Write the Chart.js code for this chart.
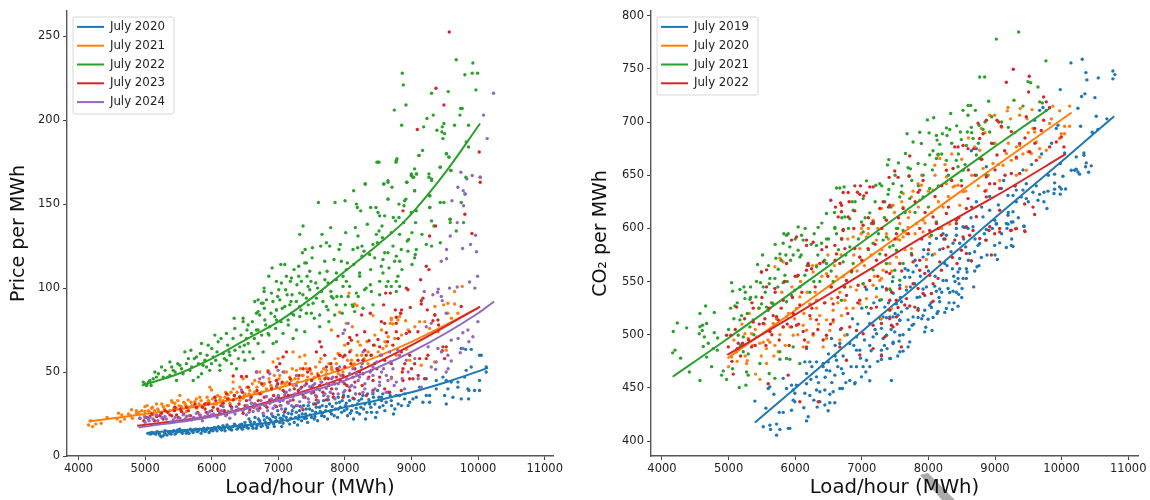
<!DOCTYPE html>
<html>
<head>
<meta charset="utf-8">
<style>
  html, body { margin: 0; padding: 0; background: #fff; }
  #page { position: relative; width: 1150px; height: 500px; overflow: hidden; }
  canvas { position: absolute; top: 0; filter: blur(0.35px); }
  #priceChart { left: 0; }
  #co2Chart { left: 575px; }
  #stray { position: absolute; left: 915px; top: 470px; width: 45px; height: 30px; background: #aaa;
    clip-path: polygon(5px 5px, 13px 3px, 40px 30px, 27px 30px); }
</style>
<script src="https://cdn.jsdelivr.net/npm/chart.js@4"></script>
</head>
<body>
<div id="page">
  <div id="stray"></div>
  <canvas id="priceChart" width="575" height="500"></canvas>
  <canvas id="co2Chart" width="575" height="500"></canvas>
</div>
<script>
const loadTicks = [4000, 5000, 6000, 7000, 8000, 9000, 10000, 11000];
const priceTicks = [0, 50, 100, 150, 200, 250];
const co2Ticks = [400, 450, 500, 550, 600, 650, 700, 750, 800];
const priceLabels = ['July 2020', 'July 2021', 'July 2022', 'July 2023', 'July 2024'];
const co2Labels = ['July 2019', 'July 2020', 'July 2021', 'July 2022'];

// fitted curves
const priceFit2020 = [[5040,13.8],[6100,17],[7000,20.5],[8000,29],[9000,38],[9600,45],[10150,52.5]];
const priceFit2021 = [[4150,20.5],[5000,25],[6000,31],[7000,40.5],[8000,52],[9000,68],[10000,88]];
const priceFit2022 = [[4950,42],[5500,49],[6000,58],[6500,69],[7000,80],[7500,94],[8000,110],[8500,126],[8900,140],[9530,170],[10030,198]];
const priceFit2023 = [[4880,18],[6000,24],[7000,34],[8000,47],[9000,66],[10030,89]];
const priceFit2024 = [[4900,17],[6000,23.4],[7000,33],[8000,45],[9000,62],[10000,85],[10240,92]];

const co2Fit2019 = [[5395,417.5],[7000,503],[8000,556],[9000,610],[10000,663],[10790,705.5]];
const co2Fit2020 = [[4985,478],[6000,523],[7000,568],[8000,613],[9000,658],[10150,709]];
const co2Fit2021 = [[4160,460.5],[5000,497],[6000,542],[7000,587],[8000,632],[9000,677],[9825,713]];
const co2Fit2022 = [[4980,481],[6000,519],[7000,557],[8000,595],[9000,630],[10066,670]];

const price2020 = [[5040,13.5],[5100,14],[5160,13],[5210,13.5],[5240,11.5],[5270,12],[5300,13],[5300,15],[5350,14.5],[5390,13],[5430,15],[5470,14],[5520,16],[5560,13.5],[5600,15],[5640,14.5],[5680,16],[5720,14],[5760,16],[5800,15],[5840,13.5],[5880,16.5],[5920,15.5],[5960,14],[6000,16],[6040,17],[6080,15],[6120,16.5],[6170,18],[6200,15],[6250,17],[6300,15.5],[6340,19],[6380,16],[6420,18.5],[6460,16],[6500,20],[6530,17],[6560,22],[6590,19],[6620,16.5],[6650,23],[6680,18],[6720,21],[6740,17.5],[6780,24],[6810,20],[6840,17],[6870,22],[6900,25],[6930,19],[6960,23],[6990,27],[7020,20],[7050,17.5],[7080,24],[7110,28],[7140,21],[7170,19],[7200,25],[7230,29],[7260,23],[7290,18.5],[7320,27],[7350,21],[7380,30],[7410,25],[7440,20],[7470,28],[7500,23],[7530,31],[7560,26],[7590,21],[7620,29],[7650,24],[7680,33],[7710,27],[7740,22],[7770,31],[7800,25],[7830,35],[7860,28],[7890,23],[7920,32],[7950,26],[7980,36],[8010,30],[8040,24],[8070,33],[8100,27],[8130,22],[8160,37],[8190,31],[8220,25],[8250,34],[8280,28],[8310,22],[8340,37],[8370,31],[8400,26],[8430,35],[8460,23],[8490,39],[8520,29],[8550,33],[8600,27],[8650,38],[8700,30],[8730,25],[8800,31],[5080,13],[5180,14.5],[5330,12.5],[5500,14.5],[5660,13.5],[5780,14.5],[5900,14.5],[6020,15],[6150,15.5],[6280,16.5],[6440,17],[6600,18],[6700,19],[6820,18.5],[6950,20.5],[7060,22],[7190,22.5],[7310,24],[7420,22.5],[7550,23.5],[7660,25.5],[7790,27],[7900,28],[8030,28],[8170,28.5],
  [10122,53],[10122,50],[10047,60],[10022,60],[9897,53],[9822,51],[10022,45],[9897,63.5],[9812,63.5],[9747,64],[10022,39],[9947,39],[9862,39],[9847,40],[9747,34],[9857,34],[9697,44],[9697,41],[9797,47],[9597,44],[9522,45],[9547,40],[9472,47],[9372,45],[9372,40],[9222,46],[9222,36],[9272,36],[9122,41],[9022,34],[9072,35],[9172,32],[9522,31],[9622,35],[9497,36],[9272,32],[8972,32],[8822,36],[8897,34],[8772,36],[8697,33],[8572,30],[8547,35],
  [5120,13.5],[5220,12.5],[5290,14],[5370,13.5],[5410,14.5],[5450,13],[5490,15.5],[5540,14.5],[5580,15],[5620,13.5],[5700,15],[5740,15.5],[5820,16],[5860,15],[5940,16.5],[5980,15],[6060,16],[6100,17.5],[6140,16],[6190,16.5],[6230,18.5],[6270,16],[6320,17.5],[6360,18],[6400,17],[6450,19],[6480,17.5],[6510,18],[6550,16.5],[6580,20.5],[6610,18],[6640,20],[6670,16.5],[6700,22],[6730,19.5],[6760,18],[6790,21.5],[6830,23],[6860,19],[6890,21],[6920,23.5],[6940,17.5],[6970,21],[7000,24.5],[7030,22.5],[7070,19.5],[7090,26],[7120,23],[7150,25.5],[7180,22],[7210,27],[7240,20],[7270,26],[7300,22],[7330,29.5],[7360,25],[7390,22.5],[7420,28],[7450,30],[7480,24.5],[7510,27],[7540,22],[7570,29],[7600,32],[7630,26.5],[7660,30],[7690,23.5],[7720,29.5],[7750,33.5],[7780,26.5],[7810,29.5],[7840,24],[7870,31.5],[7900,35],[7930,29],[7960,33],[7990,27],[8020,31.5],[8050,35.5],[8080,25.5],[8110,30],[8140,34],[8180,26],[8210,33],[8240,29],[8270,36],[8300,31],[8330,26],[8360,33.5],[8390,29],[8420,37],[8450,31],[8480,26],[8510,35],[8570,37],[8620,32],[8680,36],[8750,28],[8850,30],[8900,37],[8950,30]];

const price2021 = [[4150,18.5],[4180,21],[4210,17.5],[4260,19],[4340,19.5],[4430,23],[4580,22],[4600,25.5],[4630,20.5],[4650,24.5],[4690,22],[4750,25],[4780,24],[4810,22.5],[4870,27],[4910,26],
  [5522,36],[5397,33],[5172,31],[4797,27.5],[4872,25.5],[4997,29.4],[5097,28.4],[5272,29.4],[5447,31.4],[5547,29.4],[5647,33.4],[5747,32.4],[5822,35],[5972,41],[5997,39.3],[6122,33.4],[6247,36.4],[6322,40],[6322,44],[6422,41],[6472,46],[6647,45],[6722,50],[6847,51],[6922,56],[6997,58],[7222,62],[7322,59],[7397,60],[7272,51],[7422,52],[7622,56],[7722,51],[7122,50],[7022,48],[6772,42],[6972,45],[7197,45],[7372,48],[7547,47],[5922,31.4],[6072,31],[6422,35.4],[6572,39],[6672,37],[6822,40],[7022,40],[7222,42],[7422,45],[7622,46],[5772,28.5],[5622,26.5],[5422,27.5],[5322,26.5],[5122,24.5],[4997,26.5],[6272,31.4],[6472,34.4],[7722,49],[5050,27],[5200,27],[5350,30],[5480,28],[5600,31],[5700,30],[5850,30],[5950,33],[6050,35],[6150,32],[6200,35],[6350,34],[6500,37],[6600,36],[6750,38],[6900,41],[7100,43],[7300,46],[7500,49],[7650,50],[7800,53],[7900,49],[8000,53],[8100,57],[8250,60],[8350,62],
  [8062,97],[8147,90.5],[8182,89.5],[7922,85.6],[8422,83.6],[9762,101],[9647,98],[9547,91],[9482,90],[9352,89],[9647,90.5],[9697,85],[8697,82],[8822,83],[8837,85],[9547,85],[9122,80],[8912,80.5],[8797,81],[8697,81],[8682,79],[8722,78.6],[9272,76],[8112,77],[8022,79],[7797,75],[8447,66],[8572,64],[8622,65.5],[8197,68],[7997,66],[7872,55],[9522,63],[9347,56],[9147,54],[8972,57],[8772,60],[8922,63.5],[8347,55],[8122,54],[7797,52],[7897,61],[8697,46],
  [4950,27],[4990,24],[5030,30],[5070,26],[5110,29],[5140,27],[5190,28],[5230,26],[5250,31],[5290,28],[5330,30],[5370,27],[5410,32],[5440,29],[5490,33],[5510,30],[5540,27],[5580,32],[5610,30],[5660,29],[5690,32],[5730,30],[5770,34],[5810,31],[5840,33],[5880,30],[5930,35],[5960,32],[6010,34],[6040,31],[6090,36],[6130,35],[6170,33],[6210,38],[6260,34],[6290,38],[6340,36],[6380,38],[6420,33],[6450,39],[6490,36],[6530,41],[6560,37],[6610,43],[6640,38],[6680,41],[6710,44],[6740,37],[6790,43],[6830,39],[6860,46],[6890,42],[6940,48],[6980,42],[7010,46],[7050,43],[7090,50],[7130,44],[7170,47],[7210,52],[7250,46],[7290,44],[7330,52],[7360,48],[7410,55],[7440,47],[7480,51],[7520,46],[7560,53],[7590,49],[7640,58],[7680,52],[7720,47],[7760,55],[7810,51],[7850,58],[7890,52],[7930,60],[7970,50],[8040,57],[8090,63],[8140,55],[8180,60],[8230,66],[8290,58],[8330,68],[8390,60],[8450,72],[8500,62],[8550,75],[8600,68],[8650,71],[8750,70],[8850,72],[8950,75],[9050,77],[9200,80],[9400,74],[9600,82]];

const price2022 = [[8497,175],[8772,176],[9112,179],[9527,180],[9557,178],[9047,171],[9432,172],[9262,168],[9592,170],[9072,168],[8997,167],[9022,166],[8582,162],[8647,163],[8707,160],[8302,162],[8132,158],[8927,163],[9302,164],[9047,158],[9272,155],[7602,151],[7852,151],[8002,152],[8172,150],[8187,148],[8237,146],[8387,148],[8467,148],[8497,145],[8647,153],[8812,150],[8897,152],[8887,149],[9272,148],[9432,151],[9487,151],[9747,151],[8522,143],[8597,143],[8727,142],[8812,142],[8762,140],[8997,145],[9072,146],[8882,139],[8337,138],[8557,137],[9062,139],[9302,140],[9337,137],[9582,141],[9582,139],[9782,139],[7372,137],[7322,132],[7657,132],[7787,136],[8012,133],[8157,136],[8197,131],[8472,132],[8512,134],[8697,133],[8822,132],[9007,133],[9157,132],[9672,134],[8562,130],[8487,127],[8722,125],[8937,128],[8957,129],[9222,126],[9302,125],[9432,127],[7722,127],[7772,125],[7932,126],[7912,123],[8122,123],[8192,124],[8257,125],[8287,122],[8422,126],[7637,125],[7512,124],[7402,123],[7362,121],[7507,118],[7422,115],[7697,116],[7837,117],[7947,116],[8037,115],[8257,119],[8372,120],[8447,118],[8597,121],[8647,121],[8572,117],[8772,119],[8847,123],[8947,122],[9072,123],[9057,120],[9047,118],[8747,116],[8822,116],[9007,114],[7037,114],[7097,114],[6907,112],[6857,107],[7237,111],[7307,113],[7397,115],[7472,110],[7432,107],[7122,107],[7197,106],[7307,107],[7622,109],[7732,110],[7872,109],[8022,111],[8132,114],[8222,109],[8387,111],[8547,113],[8572,109],[8662,112],[8857,111],[8797,107],[8772,104],[8647,104],[8522,104],[8382,102],[8222,107],[7972,107],[8022,104],[7872,105],[7747,103],[7562,103],[7447,101],[7347,104],[7182,104],[7047,103],[6972,104],[6787,100],[6787,98],[6897,97],[7007,99],[7132,96],[7207,96],[7322,97],[7472,99],[7647,98],[7797,95],[7972,101],[8072,101],[8172,97],[8297,99],[8397,98],[8522,96],[8622,101],[8697,101],[8822,101],[8772,98],[7947,95],[7822,94],[7572,94],[7422,94],[7272,92],[7022,93],[6697,93],[6822,93],[6647,92],[6747,91],[7172,90],[7322,89],[7522,91],[7722,89],[7872,90],[8007,90],[8122,89],[8272,88],[8422,90],[6697,86],[6972,87],[7097,89],[7197,85],[7422,85],[7747,87],[8147,86],[7847,84],[7622,84],[6947,83],[6472,82],[6337,82],
  [4972,44],[5022,42],[5122,46],[5147,50],[5247,53],[5372,56],[5372,48],[5472,45],[5547,52],[5597,62],[5687,63],[5847,67],[5947,66],[6047,72],[5772,59],[5897,57],[5797,47],[5722,45],[5847,49],[6022,59],[6097,68],[6222,73],[6347,76],[6122,54],[6122,51],[6272,60],[6372,52],[6297,55],[6472,62],[6497,57],[6622,58],[6772,62],[6697,67],[6522,70],[6472,80],[6547,78],[6797,81],[6922,67],[6972,68],[6847,73],[7072,73],[7222,70],[7272,75],[7497,85],[7622,77],[7397,74],[5072,45],[5272,47],[5422,51],[5522,54],[5672,51],[5922,53],[5997,55],[6172,61],[6222,57],[6422,65],[6547,67],[6597,73],[6697,75],[6872,77],[6972,81],[7147,81],[7322,83],[6672,85],[6972,87],[6772,91],
  [9672,236],[9922,234],[8862,228],[8877,221],[9802,227],[9912,228],[9992,228],[9967,218],[9302,216],[9552,217],[8917,209],[8742,206],[9737,207],[9762,207],[9727,203],[9327,203],[9232,201],[8852,197],[9487,198],[9647,197],[9857,197],[9182,196],[9462,196],[9382,194],[9457,193],[9497,192],[9472,189],[9822,187],[9857,184],[9167,182],[9112,179],[9522,180],[9567,178],[8782,177],[8767,175],[8482,175],[8512,175],[9432,172],[9592,170],[8997,168],[9032,166],[9077,168],[9262,166],[9302,165],[8932,163],[8307,162],[8587,162],[8647,164],[9817,166],[10032,166],[9047,158],[9802,156],[9277,155],[8647,153],[8917,153],[9277,148],[9577,141],
  [5000,43],[5050,44],[5090,42],[5170,47],[5200,49],[5300,51],[5340,47],[5400,53],[5450,50],[5490,55],[5570,49],[5620,55],[5650,58],[5700,53],[5740,58],[5800,55],[5830,61],[5870,54],[5930,60],[5970,51],[6000,64],[6060,57],[6080,62],[6140,70],[6190,58],[6240,66],[6260,62],[6320,70],[6350,63],[6400,58],[6440,72],[6490,66],[6530,75],[6570,62],[6610,80],[6640,70],[6670,75],[6720,84],[6750,72],[6790,88],[6810,78],[6860,72],[6890,85],[6920,92],[6960,76],[6990,95],[7040,80],[7060,88],[7110,99],[7150,78],[7190,92],[7230,84],[7280,102],[7340,87],[7370,96],[7450,90],[7490,104],[7540,82],[7590,100],[7670,92],[7700,105],[7760,80],[7790,98],[7880,95],[7960,85],[8050,95],[8110,90],[8200,95],[8320,100]];

const price2023 = [[9567,252.5],[9367,219],[9487,209],[9087,194.5],[10017,181],[10032,163],[9802,144],[8872,146],[9362,137],[9272,131],[9907,132.5],[9222,113],[9262,111],[9137,105],[8922,100],[8947,99],[8612,97],[8682,97],[8582,90],[8982,88.5],[9172,94],[9147,92.5],[9147,90.5],[9237,87],[9747,89],[8852,87],[8757,87],[8772,82.6],[8252,84],[8382,85],[9352,84],[8547,80],[8597,79],[8297,74],[8772,79],[8837,85],[9347,84],[9322,80.5],[9397,81],[9407,78],[9097,74],[8972,74],[8922,73],[8772,74],[8622,73.4],[8097,69],[8072,70.6],[8047,67],[8362,68.7],[8497,69.4],[7897,71.4],[8522,65],[8847,62],[8972,60],[9122,58],[9222,58],[9247,60],[9522,65],[9472,65],[9462,62.7],[9497,58],[8297,63],[8397,60],[7972,59],[7922,60],[8072,62],[8197,57],[8272,57],[8447,55],[8597,57],[8697,55],[8872,52],[9047,55],[9197,46],[8862,50],[8872,45],[8972,46],[9022,46],[8847,39],[8597,40],[8422,39],[8672,38],[8272,49],[8397,51],[8522,47],[8122,47],[7972,48],[7872,47],[8072,39],[8222,37],[8322,36],[7822,37],[7972,35],[8122,34.4],[8422,45],[7847,43],[7997,43],
  [7622,68],[7647,65],[7572,62],[7697,60],[7122,62],[7072,59],[7022,55],[6972,53],[6847,50],[6672,50],[6322,47.6],[6447,47.3],[6522,47.3],[7372,52],[7472,52],[7722,53],[6872,44],[6972,45],[7172,43],[7422,43],[7622,42],[6422,35],[6222,37],[6047,35],[5897,31],[5772,29],[5622,29],[5472,24.5],[5247,25.5],[5072,23.5],[4922,22.5],[6022,29],[6172,31.4],[6322,33.4],[6522,33],[6722,37],[6872,33.4],[6972,29.4],[7222,33.4],[7372,36.4],[7572,35.4],[7722,33.4],[7072,39],[6722,28.4],[6472,25.5],[6222,24.5],[5972,23.5],[5722,22.5],[7097,26.5],[7372,27.5],[7572,33.4],[5547,26.5],[5372,24.5],[5172,23.5],[5822,24.5],[6122,25.5],[6572,27.5],[5300,27],[5450,29],[5900,28],[6100,27],[6300,29],[6650,31],[6800,30],[7000,35],[7150,36],[7300,39],[7500,41],[7650,44],[7800,40],[7900,51],[8000,53],[8150,52],[7750,46],
  [4980,21],[5020,23],[5100,25],[5140,21],[5220,24],[5270,22],[5340,26],[5400,24],[5440,27],[5500,23],[5530,28],[5580,25],[5650,27],[5680,24],[5750,31],[5790,26],[5860,29],[5920,26],[5950,31],[6000,27],[6060,33],[6090,28],[6140,30],[6190,27],[6240,34],[6280,30],[6340,36],[6370,27],[6410,31],[6460,38],[6500,30],[6550,41],[6590,35],[6630,29],[6680,39],[6700,33],[6750,43],[6790,35],[6830,29],[6900,40],[6930,36],[6990,43],[7030,30],[7060,44],[7100,38],[7140,32],[7180,46],[7240,40],[7270,30],[7310,48],[7350,41],[7400,35],[7440,50],[7500,45],[7530,38],[7560,31],[7600,48],[7670,38],[7700,46],[7760,42],[7790,55],[7830,35],[7880,52],[7930,45],[8000,60],[8030,42],[8090,55],[8150,44],[8180,72],[8220,50],[8260,42],[8320,60],[8360,47],[8430,66],[8480,52],[8540,60],[8640,68],[8720,66],[8800,70],[8900,55],[9000,52],[9100,48]];

const price2024 = [[10232,216],[10082,203],[10137,189],[10032,166],[9912,167],[9832,165],[9742,169],[9697,160],[9777,158],[9607,152],[9782,149],[9807,156],[9582,131],[9687,139],[9962,131.5],[9887,126],[9767,123.6],[9527,123],[9977,121.6],[9527,117.5],[9447,116],[9992,107],[9872,103.6],[9952,100],[9687,100.6],[9572,100],[9402,99.4],[9192,98],[9322,96],[9392,97.5],[9447,95],[9462,92.5],[9522,85],[9997,80],[9847,75],[9772,73.4],[9922,71],[9862,68],[9772,64],[9732,61.5],[9597,69],[9222,77],[9297,79],[9397,64],[9547,60],[9597,56.6],[9522,50],[9297,53],[9362,51.6],[9372,56],[8047,79],[7997,75],[7972,73],[8272,62],[8547,60],[8672,62],[8797,63],[8922,57],[8722,52],[8422,53],[8247,53],[8072,49],[7922,53],[7822,43],[7972,44],[8147,41],[8347,46],[8522,44],[8647,45],[8772,44],[8897,40],[9147,41],[8272,38],[7872,40],[8422,48],[8172,49],[8622,48],
  [4922,22.5],[4997,23],[5072,23],[5172,24.5],[5297,23.5],[5422,21.5],[5572,24.5],[5697,21.5],[5772,25.5],[5897,23.5],[5997,24.5],[6122,26.5],[6247,26.5],[6372,29.4],[6497,28.4],[6597,31.4],[6722,30.4],[6872,31.4],[6972,34.4],[7097,36.4],[7222,35.4],[7347,37.4],[7472,41.3],[7622,39.3],[7722,40.3],[7747,35.4],[7322,32.4],[7147,31.4],[6922,28.4],[6772,25.5],[6972,41.3],[6872,49],[7072,50],[6997,51],[6722,46],[6772,47],[6672,50],[6447,39.3],[7272,48],[7272,42],[7397,42],[7547,43],[6272,22.5],[6522,24.5],[6622,26.5],[5797,22.5],[5522,22.5],[5047,22],[5622,23.5],[5972,26.5],[6172,29.4],[6322,26.5],[6572,33.4],[6822,35.4],[7022,32.4],[7172,39.3],[7497,37.4],[6700,27],[6900,25],[7050,28],[7200,30],[7350,29],[7450,34],[7600,33],[7700,37],[7800,46],[7900,37],[8000,39],[8100,42],[8200,45],[8300,43],[8450,40],[8550,50],[8700,47],
  [5000,20],[5060,21],[5120,22],[5190,21],[5250,23],[5320,22],[5380,20],[5450,23],[5480,21],[5600,22],[5660,24],[5730,23],[5830,24],[5860,21],[5940,25],[6030,25],[6080,23],[6150,27],[6210,24],[6300,28],[6350,25],[6400,28],[6470,27],[6530,30],[6560,26],[6640,31],[6680,28],[6740,33],[6800,30],[6840,27],[6900,34],[6950,30],[7000,36],[7040,30],[7070,33],[7120,38],[7180,33],[7250,37],[7290,30],[7330,40],[7380,35],[7420,38],[7460,32],[7520,42],[7560,36],[7590,40],[7640,44],[7680,36],[7730,43],[7780,38],[7820,47],[7850,34],[7900,43],[7940,48],[7980,38],[8030,46],[8070,41],[8120,52],[8160,37],[8220,47],[8260,55],[8300,40],[8380,50],[8420,38],[8480,56],[8520,42],[8580,52],[8620,38],[8680,56],[8740,42],[8820,60],[8860,46],[8950,50],[9050,58],[9100,46],[9250,65],[9450,62],[9550,52],[9700,70]];

const co22019 = [[5395,437.6],[5560,431],[5620,451],[5595,449.5],[5680,444],[5520,413.5],[5620,415],[5630,411],[5720,416],[5770,411],[5720,405.6],[5895,412],[5920,412],[5760,427],[5820,427],[5945,429],[5820,459],[5870,449.5],[5970,448],[5995,445],[5945,452.6],[6020,452.6],[5970,438.5],[5995,437],[6145,445],[6220,443],[6170,454],[6170,463.6],[6235,458],[6170,419],[6195,423],[6130,431.3],[6280,438.5],[6370,437],[6330,432],[6495,428.5],[6445,434],[6520,436],[6595,436],[6320,448],[6370,446.4],[6445,448],[6520,444],[6570,446.4],[6670,449.5],[6710,449.5],[6320,460.4],[6470,466.7],[6520,466],[6595,462],[6720,463.6],[6820,457],[6895,454],[6995,460.4],[7120,456.7],[7445,457],[6145,474.5],[6220,474.5],[6320,474.5],[6420,470],[6495,474.5],[6620,476],[6695,468],[6920,470],[7020,470],[7070,476],[7120,470],[6920,485.5],[6970,485.5],[7120,490],[7295,485.5],[7295,481],[7420,477.7],[7570,484],[7170,498],[7220,501],[7370,499.6],[7470,493],[7570,499.6],[7120,510.6],[7320,516.8],[7470,516.8],[7570,513.7],[7070,542.5],[7220,543.5],[7270,532.5],[7470,539],[7520,529],[7345,526],[6545,496.5],[6670,491.8],[6820,491.8],[6920,498],[6170,487],[6420,473],
  [7430,477.7],[7295,476.7],[7380,487],[7620,484.6],[7695,488.6],[7720,493.3],[7470,491.8],[7560,494],[7945,502.7],[8055,504],[7960,507],[7710,505],[7755,509],[7770,516.8],[7845,516.2],[7995,514.6],[8070,516.2],[7920,518],[8045,525.6],[8145,522],[8245,521],[8360,523.7],[8445,526.9],[8270,524.7],[8385,530],[8170,531],[8160,535],[8505,543.5],[8420,540],[8455,538],[8320,539.7],[8295,543.5],[8370,541],[8120,541],[8095,545.7],[8220,551],[8270,551],[8380,555],[8445,553],[8520,553],[8570,553],[8460,548],[8360,562],[8445,559],[8580,559],[8695,560],[8730,564],[8570,562],[8470,571.7],[8645,569.5],[8695,578],[8795,572.6],[9035,570.7],[9170,582],[9245,584],[9270,583],[9070,586.4],[8995,584],[8870,589],[8745,584],[8560,582.6],[8470,586],[8370,586],[8270,593.6],[8545,600.8],[8595,600],[8870,599],[9020,604],[9195,604],[9435,602],[9245,606],[9180,600],[7720,554],[7645,554],[7770,559],[7795,548],[7920,543],[7870,535.6],[7595,531],[7595,521.5],[7545,518.4],[7695,514],[7570,513.7],[7420,516.8],[7370,516],[7495,502.7],[7370,499.6],[7320,496.5],[7295,506],[7945,523],[7845,524.7],[8020,527.8],[8170,543],[7820,565],[8020,585.8],[8120,590.5],[7995,576],[7920,573],[8245,567],[8770,585.8],[8620,576.4],[7670,542],[7695,560.7],[7570,546.6],[7370,543],
  [10310,759],[10140,755.6],[10365,746.5],[10770,748],[10800,744.6],[10380,739.6],[10550,741.5],[10770,740.6],[9980,730.5],[10300,724],[10350,726.5],[10500,723],[10245,713],[10520,705.5],[10680,703],[10285,696],[10460,690.4],[10545,693],[10045,671],[10335,671],[10335,668.8],[10220,667.2],[9980,661],[10370,661.6],[10445,658.8],[10360,658],[10220,655.6],[10195,654.7],[10245,653],[10270,651],[10405,652.8],[10145,654.7],[10020,649],[9895,651],[9895,642.8],[9970,639],[10060,637],[9995,637],[9895,636.9],[9885,632.8],[9980,632.2],[9795,635],[9735,634],[9670,632],[9735,625],[9780,618.7],[9645,626.5],[9570,634],[9470,642],[9420,636],[9395,629.6],[9270,631],[9195,631],[9320,625],[9470,628],[9270,615.6],[9195,612.4],[9170,604.6],[9270,606],[9435,602],[8720,625],[8920,617],[8995,607.7],[9020,604.6],[8820,610.8],[8670,601.5],[8220,595],[8520,601.5],[8420,593.6],[9670,711],[9720,713.6],[9770,711],[9595,701.7],[9945,697],[9920,694],[8645,673],[8720,675],[8870,658],[9095,637.5],[9320,636],
  [6500,482],[6550,455],[6600,490],[6640,470],[6680,505],[6720,480],[6760,455],[6780,500],[6840,470],[6860,515],[6880,490],[6940,510],[6980,478],[7000,525],[7040,495],[7060,465],[7100,520],[7140,485],[7180,530],[7200,505],[7240,475],[7280,515],[7310,545],[7340,490],[7400,530],[7440,505],[7460,550],[7500,520],[7540,480],[7580,535],[7620,500],[7650,562],[7680,525],[7730,545],[7780,510],[7800,570],[7830,535],[7880,555],[7900,515],[7930,580],[7970,545],[8000,560],[8040,530],[8060,575],[8100,555],[8130,520],[8170,580],[8200,540],[8230,590],[8280,565],[8310,530],[8340,578],[8400,550],[8420,600],[8470,562],[8500,535],[8530,590],[8600,570],[8640,610],[8680,545],[8700,590],[8760,565],[8800,620],[8840,595],[8880,575],[8920,630],[8960,600],[9000,575],[9050,622],[9100,595],[9130,645],[9200,615],[9250,590],[9300,640],[9350,610],[9420,655],[9500,625],[9550,660],[9620,640],[9700,670],[9800,650],[9850,680],[6900,455],[6350,455],[6250,470],[6450,460],[6600,480]];

const co22020 = [[5045,479],[5120,484],[5270,473],[5280,475.5],[5470,458],[5570,473],[5405,463],[5170,488.6],[5295,496.5],[5345,501],[5245,501],[5570,487],[5695,490],[5470,492],[5620,493],[5420,498],[5520,493],[5745,484],[6195,493],[6420,488.6],[6470,496.5],[6670,495],[6745,499.6],[5820,507.4],[6120,509],[6370,518],[6470,514],[6570,512],[6695,518],[6770,525],[6870,525],[6970,529],[7070,534],[7220,535.6],[6920,542],[7020,548],[7170,546.6],[7270,551],[5770,572],[5820,568.5],[5695,564],[6270,559],[6470,557.5],[6620,554.5],[6070,535.6],[6320,532.5],[6670,540],[6745,532.5],[6320,565.4],[6970,581],[7070,592],[7220,589],[7370,595],[7170,604.6],[6545,534],[6220,529],[5920,507.4],[5970,499.6],[5670,510.6],[5620,503],[6170,504.3],[6270,499.6],[6520,504],[6745,545],[5870,517],[6020,525],[6320,525],[6570,523],[6120,488.6],
  [7695,601],[7820,604.6],[7745,581],[7520,573],[7320,560.7],[7420,567],[7570,589],[7920,596.7],[8020,592],[7295,552.9],[7670,545],[7445,524.7],[7295,515],[7970,570.7],[8095,576],[8320,604],
  [9195,713.6],[9185,710.5],[9380,712.7],[9555,711.7],[9870,715],[10120,715],[9970,710.5],[8920,706.4],[8995,706.4],[9235,703],[9370,706.4],[9480,703],[9845,703],[9820,698.6],[9570,694],[9595,690.7],[10120,696],[10045,696],[9995,689],[10045,689],[9970,684.5],[9370,678],[9620,681.3],[9320,676.6],[8795,694],[8695,676.6],[8770,673.5],[9495,672],[9545,670.4],[9670,675],[9770,673.5],[9670,667],[9170,670.4],[9245,664],[9320,665.7],[9120,659.4],[8970,661],[8820,656.3],[8145,668.8],[8170,665.7],[8095,659.4],[8270,648.4],[7845,642],[7895,640.6],[8270,642],[8370,639],[8445,640.6],[8520,634.4],[8070,636],[7620,632.8],[7745,629.6],[7870,626.5],[7470,621.8],[7620,620],[7720,615.6],[7295,618.7],[7170,607.7],[6995,600],[7095,595],[6870,592],[6695,590.5],[7570,604.6],[7670,595],[7920,607.7],[8470,621.8],[8220,620],[8870,636],[9070,645],[9320,650],[9470,654.7],[7620,592],
  [5000,470],[5080,495],[5130,475],[5200,510],[5250,480],[5310,520],[5360,490],[5400,505],[5450,525],[5490,480],[5540,510],[5590,495],[5640,530],[5680,480],[5720,515],[5770,500],[5800,540],[5850,490],[5900,520],[5950,545],[5990,515],[6040,500],[6080,550],[6130,520],[6180,540],[6230,515],[6260,565],[6300,540],[6350,510],[6400,555],[6450,530],[6490,575],[6530,545],[6590,565],[6640,530],[6690,575],[6720,555],[6790,590],[6830,545],[6880,575],[6930,560],[6990,595],[7040,565],[7100,600],[7140,575],[7190,555],[7240,600],[7300,580],[7340,610],[7400,590],[7450,560],[7490,615],[7540,590],[7600,625],[7650,580],[7700,610],[7770,635],[7800,595],[7850,620],[7900,650],[7950,605],[8000,635],[8050,615],[8100,650],[8150,625],[8200,600],[8250,660],[8300,630],[8350,670],[8400,640],[8460,610],[8500,665],[8560,635],[8600,685],[8650,650],[8750,640],[8800,665],[8850,690],[8900,650],[9000,680],[9050,660],[9100,695],[9200,680],[9300,690],[9420,670],[9500,690]];

const co22021 = [[4230,511],[4170,503],[4370,506.5],[4570,507.5],[4610,509],[4655,527],[4570,520],[4785,521],[4670,510.6],[4605,504],[4560,501],[4785,502],[4635,498],[4835,497],[4195,485.5],[4160,483],[4280,478],[4620,489],[4695,492],[4770,487],[4830,485.5],[4670,479],[4745,470],[4410,465],[4570,457],[4895,462],[4920,466],[5060,468],[4970,458],[5160,450.4],[5260,452.6],[5045,549],[5060,541],[5170,542.5],[5250,540],[5330,545],[5435,566],[5490,559],[5710,572],[5745,561.6],[5480,549],[5520,545],[5610,548],[5695,553],[5820,549],[5870,593.6],[5895,595],[5820,586],[5920,582.6],[5770,576],[5860,575],[6045,601.4],[6095,593.6],[6120,589],[6045,579.5],[5970,575],[6070,573],[6285,595],[6345,601],[6320,584],[6395,586],[6470,590],[6595,601],[6620,595],[6695,590],[5245,534],[5320,533.4],[5410,535.6],[5495,529],[5570,526],[5030,525],[5095,527],[5170,514],[5195,518],[5320,507.4],[5620,553],[5845,556],[5995,542],[5945,537],[6145,556],[6320,564],[6470,567],[6720,568.5],[6370,550],[6570,550],[6220,540],[6695,532.5],[6845,559],[7020,548],[7170,561],[7270,576],[7370,567],[7520,579.5],[7070,526],[6970,573],[6820,582.6],[7170,586],[7370,592],[7470,584],[7020,596.7],[7145,604.6],[6870,567],[7420,543],[5870,477.7],[5770,477],[5920,477],[6070,473],[5695,459],[5610,463.6],[5270,465],[5295,462],[5470,473],[5220,484],[5295,482],[5770,484],[5970,488.6],[5145,499.6],[5220,498],[5370,514],[5595,523],[5670,529],[5870,531],[6070,545],
  [7470,554.4],[7570,551.3],[7495,560.7],[7620,567],[7745,576.4],[7370,542],[7430,542],[7295,533],[7320,589],[7520,600],[7620,598],[7420,582.6],[8045,593.6],[8120,606],
  [9355,784.7],[9020,778],[9765,757.5],[8770,742.4],[8845,742.4],[9495,738],[9535,737],[9645,733],[9670,719],[9710,718],[8905,719.6],[9285,720.5],[9420,715],[8635,715.5],[8595,715.5],[8705,711],[8520,711],[8335,708],[8595,706.4],[8080,704],[7985,702],[8270,694.5],[8320,693],[8425,696.4],[8645,695],[7680,689],[7870,690.4],[8010,689.8],[8120,687.3],[8210,689],[8280,687.3],[8480,690.7],[8585,690.7],[8760,697],[8820,693],[8920,690.7],[8495,683.5],[8670,684.5],[8570,678],[8970,679.8],[7770,681.3],[7895,679.8],[8130,683],[8170,679],[8070,673],[7655,670.4],[8020,669],[8145,669.8],[7405,664.7],[7385,659.7],[7550,661.6],[7695,657],[7730,656],[7845,661],[8120,665.7],[8270,664],[8420,664],[8445,658],[8720,669],[8770,665.7],[7070,644.7],[7270,642],[7210,640.6],[6620,638],[6670,638],[6735,639],[7470,642],[7405,636.5],[7710,649],[7920,650],[7395,632],[7595,634],[6855,625],[7020,628],[6470,614],[6870,617],[7120,614.6],[7345,625],[7570,629.6],[8020,637.5],[8495,645],[8520,654.7],[8720,650],[8870,650],[6820,609],[6995,606],[6595,600],[6745,610.8],[7720,628],[7920,629.6],
  [5000,505],[5080,515],[5130,530],[5180,490],[5230,545],[5280,520],[5330,535],[5380,500],[5420,550],[5460,525],[5510,575],[5550,540],[5600,565],[5650,530],[5700,585],[5740,545],[5790,570],[5830,595],[5880,550],[5930,570],[6000,590],[6030,555],[6090,575],[6150,600],[6180,565],[6240,585],[6280,550],[6340,575],[6400,605],[6440,570],[6500,590],[6540,560],[6590,615],[6650,580],[6700,610],[6760,575],[6800,600],[6900,625],[6950,590],[7050,610],[7100,580],[7200,625],[7250,595],[7300,640],[7340,610],[7440,620],[7500,650],[7540,600],[7600,640],[7650,615],[7750,645],[7800,615],[7850,640],[7950,660],[8000,620],[8060,655],[8150,640],[8200,670],[8300,650],[8350,680],[8450,670],[8550,660],[8650,690],[8750,680],[8850,700],[8950,705],[9100,700],[9200,695]];

const co22022 = [[4970,499.6],[5035,499.6],[4995,488.6],[5145,492],[5130,487],[5210,492],[5345,488.6],[5070,463],[5370,512],[5545,515],[5520,510.6],[5670,518],[5720,517],[5820,507.4],[5945,507.4],[6020,509],[6120,503],[6270,501],[6470,499.6],[6570,514],[6695,506],[6820,507.4],[6920,504],[7020,501],[7170,509],[7470,507.4],[5895,462],[5595,454],[6070,437],[6345,437],[6670,488.6],[6770,476],[6970,481],[7170,487],[5120,526],[5370,525],[5570,561],[5495,559],[5570,545],[5695,543.5],[6020,592],[5945,589],[6170,589],[6270,587],[6195,567],[6245,562],[6595,584],[6745,581],[6895,581],[6970,573],[7095,581],[7220,570],[6720,598],[6170,584],[6420,568.5],[6620,576],[6545,545],[6945,546.6],[7120,551],[7370,543],[7020,603],[7170,606],[7520,595],[5820,532.5],[5970,520],[5745,514],[6220,518],[6320,514],[6070,528],[6570,529],[6770,537],[6970,532.5],[7220,526],[7420,523],[7520,532.5],[6770,551],[6670,567],[6370,567],[6045,556],[6170,560.7],[6470,582.6],[5870,567],[5620,503],[6170,488.6],[6420,495],
  [9450,597],[9310,599.6],[9235,598],[9070,596.7],[8995,595],[8910,598],[8945,575],[8645,569.5],[8495,579.5],[8295,582.6],[8220,581],[8395,589],[8520,592],[8670,598],[8770,590.5],[8860,589],[8620,593.6],[8570,576.4],[8430,567],[8360,572.6],[8195,560.7],[8145,553],[8070,548],[7945,557.6],[8020,556],[7870,560.7],[7770,548],[7845,543.5],[7920,538.8],[8045,538.8],[8070,531.5],[7945,537],[7795,526],[7720,527],[7845,523],[7645,528],[7545,525.6],[7520,516.8],[7420,515],[7445,509],[7530,510],[7295,510.6],[7345,498],[7595,488.6],[7295,480],[7420,532.5],[7570,543.5],[7670,534],[7870,570],[7420,557.6],[7370,559],[7570,567],[7770,568.5],[7970,564],[8170,568.5],[8020,598],[8195,593.6],[8420,604.6],
  [9275,749.6],[9515,743],[9170,737.4],[9505,728.3],[9730,723.6],[9770,719],[9820,713.6],[9030,701.7],[9055,700],[8870,701.7],[8745,699],[9095,696],[9245,691],[8820,689],[8770,684.5],[9470,705],[9730,701.7],[9695,692],[9595,694],[9995,686],[8445,676.6],[8395,676.6],[8520,678],[8595,675],[8680,675],[9030,669],[9145,673],[9320,667],[9370,679.8],[9820,676.6],[10035,676.6],[9920,681.3],[9620,664],[9520,672],[7720,668],[7495,654],[7410,648],[7545,648],[7710,649.4],[7920,645],[6895,640],[6980,640],[7120,639],[7170,639],[6720,633.7],[6795,633.7],[6935,634],[6970,632],[7070,633.4],[7030,630.6],[6535,626.5],[6680,624],[6605,620],[6695,621.8],[6810,625],[6695,615.6],[6895,616.5],[6645,610.8],[6795,610.8],[7320,625],[7420,621.8],[7620,618.7],[7845,634],[7870,636],[8370,656.3],[8270,654.7],[8870,648.4],[8995,642],[8920,642],[9070,637.5],[9245,651.6],[9370,651.6],[9570,620],[9595,613],[9445,623],[9245,598.3],[9320,600],[9445,597.7],[9070,600],[9070,617],[8920,601.5],[8720,611],[8570,618.7],[8270,614],[8070,610.8],[7370,607.7],[7170,604.6],[6720,599],[8420,607.7],[8120,604.6],[8570,601.5],[7870,600],[7270,618.7],[8870,629.6],[8595,628],
  [5050,475],[5100,505],[5180,480],[5240,515],[5300,495],[5350,530],[5400,490],[5460,510],[5500,535],[5560,490],[5610,525],[5650,500],[5700,540],[5760,495],[5790,525],[5840,550],[5880,510],[5910,490],[5960,535],[6000,555],[6050,510],[6100,540],[6140,495],[6200,565],[6250,525],[6300,545],[6340,505],[6400,580],[6440,530],[6490,555],[6530,510],[6600,570],[6640,535],[6700,590],[6740,545],[6790,520],[6850,560],[6880,600],[6940,530],[7000,570],[7050,545],[7100,610],[7140,525],[7200,585],[7240,555],[7300,600],[7360,575],[7400,620],[7450,540],[7500,590],[7550,610],[7600,560],[7700,595],[7750,575],[7800,625],[7900,590],[7950,615],[8000,580],[8100,630],[8150,600],[8200,640],[8250,590],[8300,620],[8350,645],[8450,610],[8500,640],[8600,655],[8650,620],[8700,650],[8800,665],[8850,635],[8950,680],[9000,655],[9150,650],[9300,640],[9450,685],[9600,680]];

const palette = ['#1f77b4', '#ff7f0e', '#2ca02c', '#d62728', '#9467bd'];

const toXY = pairs => pairs.map(p => ({ x: p[0], y: p[1] }));

// scatter and its fit per year, later years drawn on top
function buildDatasets(labels, scatters, fits) {
  const sets = [];
  labels.forEach((label, i) => {
    sets.push({
      label: label,
      data: toXY(scatters[i]),
      backgroundColor: palette[i],
      borderWidth: 0,
      pointRadius: 1.7,
      order: 100 - i * 2
    });
    sets.push({
      label: label,
      isFit: true,
      data: toXY(fits[i]),
      showLine: true,
      borderColor: palette[i],
      backgroundColor: palette[i],
      borderWidth: 2,
      pointRadius: 0,
      cubicInterpolationMode: 'monotone',
      order: 99 - i * 2
    });
  });
  return sets;
}

const legendFrame = {
  id: 'legendFrame',
  beforeDraw(chart) {
    const lg = chart.legend;
    const a = chart.chartArea;
    const ctx = chart.ctx;
    // legend sits a little inside the axes, with a box round it
    lg.left = a.left + 3;
    lg.top = a.top + 3;
    ctx.save();
    ctx.beginPath();
    ctx.roundRect(a.left + 6, a.top + 6, chart.options.legendBoxWidth, chart.options.legendBoxHeight, 2);
    ctx.fillStyle = '#fff';
    ctx.fill();
    ctx.strokeStyle = '#d8d8d8';
    ctx.lineWidth = 1;
    ctx.stroke();
    ctx.restore();
  }
};

function makeChart(id, cfg) {
  return new Chart(document.getElementById(id), {
    type: 'scatter',
    data: { datasets: buildDatasets(cfg.labels, cfg.scatters, cfg.fits) },
    plugins: [legendFrame],
    options: {
      responsive: false,
      animation: false,
      devicePixelRatio: 1,
      legendBoxWidth: cfg.boxWidth,
      legendBoxHeight: cfg.boxHeight,
      layout: { padding: { top: 11, right: cfg.right, left: 0, bottom: 0 } },
      plugins: {
        tooltip: { enabled: false },
        legend: {
          position: 'chartArea',
          align: 'start',
          labels: {
            boxWidth: 27,
            boxHeight: 2,
            padding: 7,
            color: '#222',
            font: { family: 'DejaVu Sans', size: 11.8 },
            generateLabels: chart => cfg.labels.map((t, i) => ({
              text: t,
              fillStyle: palette[i],
              strokeStyle: palette[i],
              lineWidth: 0,
              fontColor: '#222',
              datasetIndex: i * 2 + 1
            }))
          }
        }
      },
      scales: {
        x: {
          type: 'linear',
          min: cfg.xMin,
          max: cfg.xMax,
          afterFit: s => { s.height = 44; },
          afterBuildTicks: s => { s.ticks = loadTicks.map(v => ({ value: v })); },
          grid: { drawOnChartArea: false, tickLength: 4, tickColor: '#444', tickWidth: 1 },
          border: { color: '#555', width: 1.4 },
          ticks: { color: '#222', padding: 2, maxRotation: 0, font: { family: 'DejaVu Sans', size: 11.5 }, callback: v => String(v) },
          title: { display: true, text: 'Load/hour (MWh)', color: '#111', padding: 0, font: { family: 'DejaVu Sans', size: 19.7 } }
        },
        y: {
          type: 'linear',
          min: cfg.yMin,
          max: cfg.yMax,
          afterFit: s => { s.width = cfg.axisWidth; },
          afterBuildTicks: s => { s.ticks = cfg.yTicks.map(v => ({ value: v })); },
          grid: { drawOnChartArea: false, tickLength: 4, tickColor: '#444', tickWidth: 1 },
          border: { color: '#555', width: 1.4 },
          ticks: { color: '#222', padding: 3, font: { family: 'DejaVu Sans', size: 11.5 }, callback: v => String(v) },
          title: { display: true, text: cfg.yTitle, color: '#111', padding: { top: cfg.titlePad, bottom: 0 }, font: { family: 'DejaVu Sans', size: 19 } }
        }
      }
    }
  });
}

makeChart('priceChart', {
  labels: priceLabels,
  scatters: [price2020, price2021, price2022, price2023, price2024],
  fits: [priceFit2020, priceFit2021, priceFit2022, priceFit2023, priceFit2024],
  yTicks: priceTicks,
  xMin: 3827, xMax: 11125, yMin: 0, yMax: 265,
  axisWidth: 67, right: 22, titlePad: 8,
  boxWidth: 101, boxHeight: 97,
  yTitle: 'Price per MWh'
});

makeChart('co2Chart', {
  labels: co2Labels,
  scatters: [co22019, co22020, co22021, co22022],
  fits: [co2Fit2019, co2Fit2020, co2Fit2021, co2Fit2022],
  yTicks: co2Ticks,
  xMin: 3835, xMax: 11147, yMin: 386, yMax: 804.4,
  axisWidth: 76, right: 12, titlePad: 15,
  boxWidth: 101, boxHeight: 78,
  yTitle: 'CO\u2082 per MWh'
});
</script>
</body>
</html>
